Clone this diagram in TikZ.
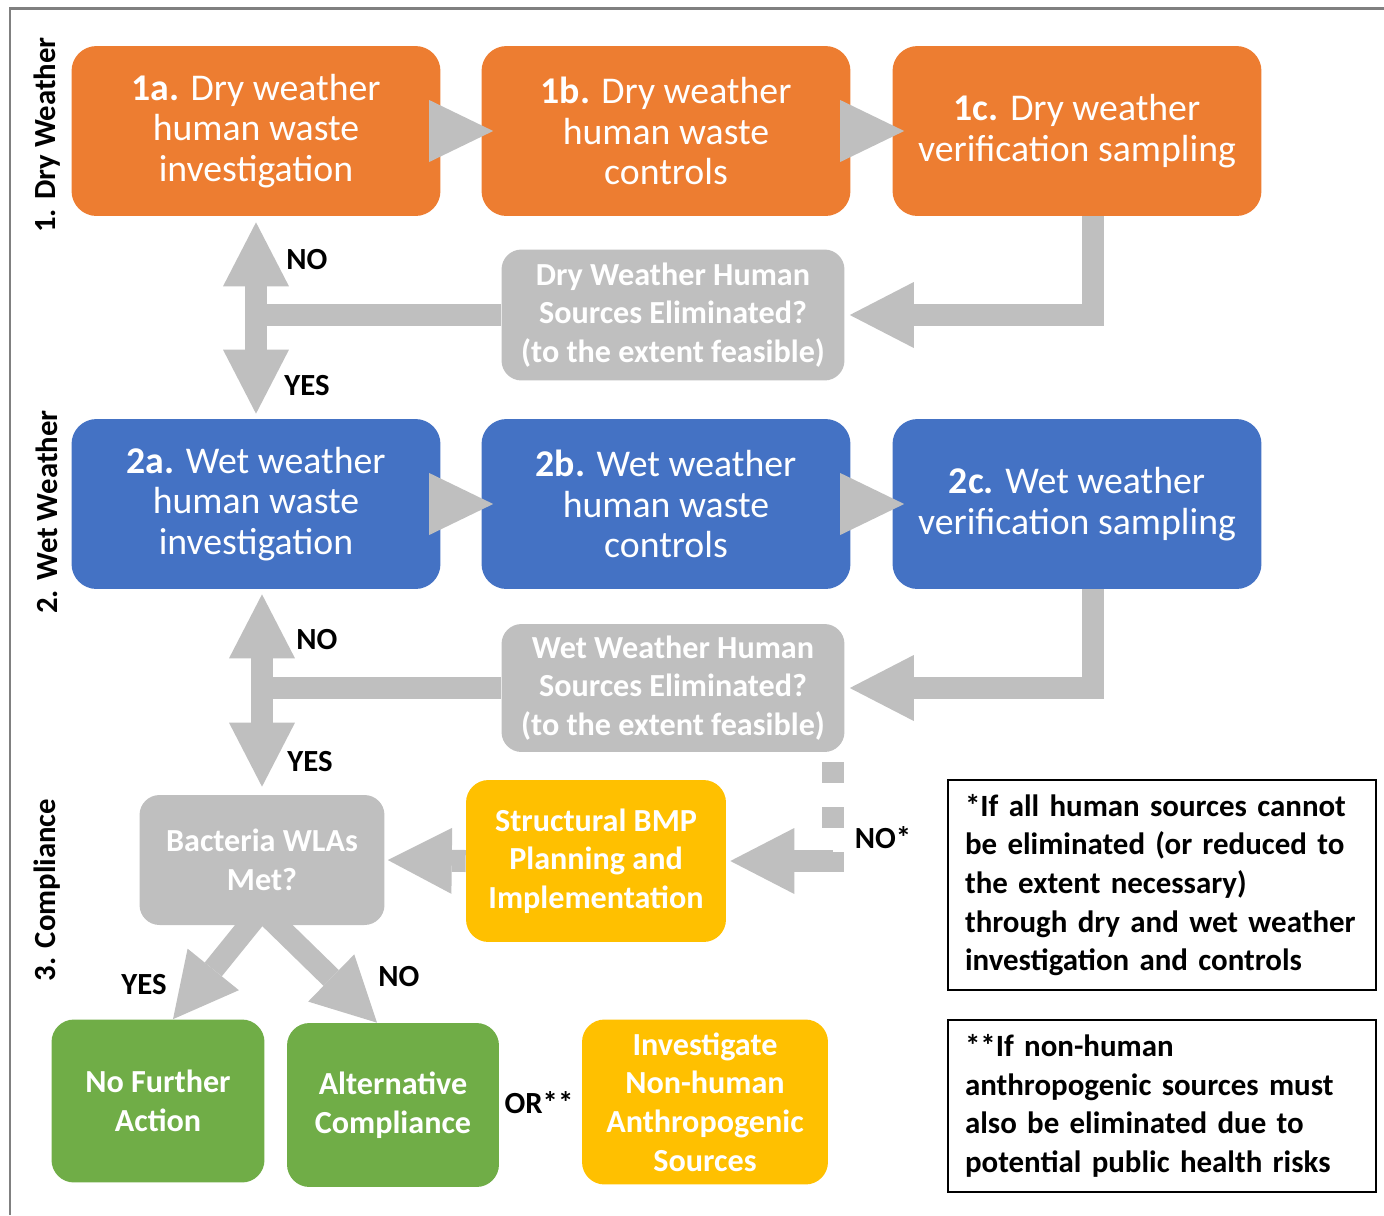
\documentclass[tikz,border=0pt]{standalone}
\usepackage{fontspec}
\setmainfont{Carlito}
\usetikzlibrary{arrows.meta,positioning,calc}
\definecolor{dry}{HTML}{ED7D31}
\definecolor{wet}{HTML}{4472C4}
\definecolor{check}{HTML}{BFBFBF}
\definecolor{bmp}{HTML}{FFC000}
\definecolor{done}{HTML}{70AD47}
\definecolor{frame}{HTML}{808080}

\begin{document}
\begin{tikzpicture}[x=0.02cm,y=-0.02cm,
  box/.style={rounded corners=0.5cm,minimum width=7.38cm,minimum height=3.4cm,align=center,text=white,font=\fontsize{21.5}{23}\selectfont},
  query/.style={fill=check,rounded corners=0.4cm,align=center,text=white,font=\fontsize{18.3}{22}\selectfont\bfseries},
  act/.style={rounded corners=0.45cm,align=center,text=white,font=\fontsize{18.3}{22}\selectfont\bfseries},
  note/.style={draw,line width=0.03cm,text width=7.88cm,inner xsep=0.34cm,align=left,font=\fontsize{17.6}{22}\selectfont\bfseries},
  lbl/.style={font=\fontsize{17.5}{20}\selectfont\bfseries},
  shaft/.style={check,line width=0.44cm},
  flow/.style={shaft,-{Triangle[length=1.28cm,width=1.32cm,line width=0pt]}},
  both/.style={shaft,{Triangle[length=1.28cm,width=1.32cm,line width=0pt]}-{Triangle[length=1.28cm,width=1.32cm,line width=0pt]}},
  hop/.style={check,line width=0.1pt,-{Triangle[length=1.28cm,width=1.24cm,line width=0pt]}},
]
  \useasboundingbox (0,0) rectangle (1384,1215);
  \draw[frame,line width=0.06cm] (1384,8) -- (10,8) -- (10,1215);

  \node[lbl,rotate=90] (sec1) at (47,135) {1. Dry Weather};
  \node[lbl,rotate=90] (sec2) at (47,512) {2. Wet Weather};
  \node[lbl,rotate=90] (sec3) at (47,890) {3. Compliance};

  \node[box,fill=dry] (a1) at (256,131) {{\bfseries 1a.} Dry weather\\human waste\\investigation};
  \node[box,fill=dry] (b1) at (666,131) {{\bfseries 1b.} Dry weather\\human waste\\controls};
  \node[box,fill=dry] (c1) at (1077,131) {{\bfseries 1c.} Dry weather\\verification sampling};
  \node[query,minimum width=6.86cm,minimum height=2.62cm] (dgray) at (673,315) {Dry Weather Human\\Sources Eliminated?\\(to the extent feasible)};

  \node[box,fill=wet] (a2) at (256,504) {{\bfseries 2a.} Wet weather\\human waste\\investigation};
  \node[box,fill=wet] (b2) at (666,504) {{\bfseries 2b.} Wet weather\\human waste\\controls};
  \node[box,fill=wet] (c2) at (1077,504) {{\bfseries 2c.} Wet weather\\verification sampling};
  \node[query,minimum width=6.86cm,minimum height=2.56cm] (wgray) at (673,688) {Wet Weather Human\\Sources Eliminated?\\(to the extent feasible)};

  \node[query,minimum width=4.9cm,minimum height=2.6cm] (bac) at (262,860) {Bacteria WLAs\\Met?};
  \node[act,fill=bmp,minimum width=5.2cm,minimum height=3.24cm] (bmp) at (596,861) {Structural BMP\\Planning and\\Implementation};
  \node[act,fill=done,minimum width=4.26cm,minimum height=3.26cm] (nfa) at (158,1101) {No Further\\Action};
  \node[act,fill=done,minimum width=4.24cm,minimum height=3.28cm] (alt) at (393,1105) {Alternative\\Compliance};
  \node[act,fill=bmp,minimum width=4.92cm,minimum height=3.3cm] (inv) at (705,1102) {Investigate\\Non-human\\Anthropogenic\\Sources};

  \node[note,minimum height=4.2cm] (fn1) at (1162,885) {*If all human sources cannot\\be eliminated (or reduced to\\the extent necessary)\\through dry and wet weather\\investigation and controls};
  \node[note,minimum height=3.44cm] (fn2) at (1162,1106) {**If non-human\\anthropogenic sources must\\also be eliminated due to\\potential public health risks};

  \draw[hop] ([xshift=-0.22cm]a1.east) -- ([xshift=0.24cm]b1.west);
  \draw[hop] ([xshift=-0.22cm]b1.east) -- ([xshift=0.24cm]c1.west);
  \draw[hop] ([xshift=-0.22cm]a2.east) -- ([xshift=0.24cm]b2.west);
  \draw[hop] ([xshift=-0.22cm]b2.east) -- ([xshift=0.24cm]c2.west);

  \draw[shaft] (dgray.west) -- (a1.south |- dgray.west);
  \draw[both,shorten <=0.12cm,shorten >=0.1cm] (a1.south) -- (a2.north);
  \draw[flow,shorten >=0.1cm] ([xshift=0.32cm]c1.south) |- (dgray.east);

  \draw[shaft] (wgray.west) -- (bac.north |- wgray.west);
  \draw[both,shorten <=0.1cm,shorten >=0.16cm] (a2.south -| bac.north) -- (bac.north);
  \draw[flow,shorten >=0.1cm] ([xshift=0.32cm]c2.south) |- (wgray.east);

  \coordinate (nostar) at (833,861);
  \draw[shaft,dash pattern=on 0.42cm off 0.48cm,dash phase=0.7cm] (wgray.south -| nostar) -- ([yshift=-0.22cm]nostar);
  \draw[flow,shorten >=0.08cm] (nostar) -- (bmp.east);
  \draw[flow,shorten >=0.06cm] (bmp.west) -- (bac.east);
  \draw[flow] ([xshift=-0.1cm,yshift=0.2cm]bac.south) -- ([xshift=0.3cm]nfa.north);
  \draw[flow] ([xshift=0.1cm,yshift=0.2cm]bac.south) -- ([xshift=-0.32cm]alt.north);

  \node[lbl] (no1) at (307,260) {NO};
  \node[lbl] (yes1) at (307,386) {YES};
  \node[lbl] (no2) at (317,640) {NO};
  \node[lbl] (yes2) at (310,762) {YES};
  \node[lbl] (no3) at (883,838) {NO*};
  \node[lbl] (yes3) at (144,985) {YES};
  \node[lbl] (no4) at (399,977) {NO};
  \node[lbl] (or) at (539,1103) {OR**};
\end{tikzpicture}
\end{document}
